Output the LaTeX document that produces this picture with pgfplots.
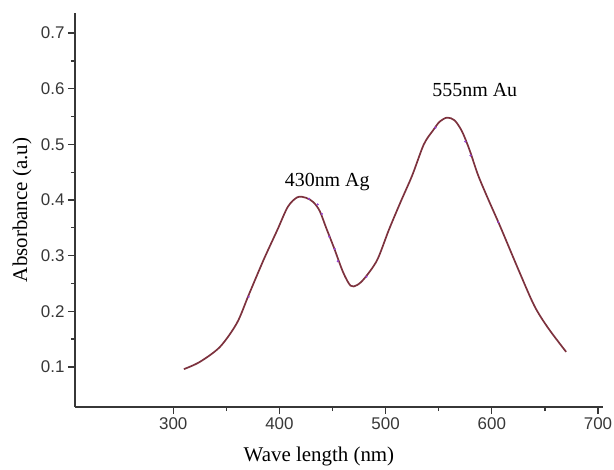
\documentclass[border=0pt]{standalone}
\usepackage{pgfplots}
\pgfplotsset{compat=1.18}
\usepackage{fontspec}
\setmainfont{Liberation Sans}
\newfontfamily\tnr{Liberation Serif}
\definecolor{curve}{RGB}{125,50,62}
\definecolor{dots}{RGB}{150,70,210}
\definecolor{axgray}{RGB}{55,55,55}

% absorbance spectrum
\pgfplotstableread{
lam   abs
310   0.096
325   0.109
344   0.136
360   0.179
371   0.229
385   0.292
398   0.346
408   0.388
417   0.405
425   0.404
432   0.396
438   0.380
444   0.350
451   0.316
460   0.270
467   0.246
473   0.247
480   0.259
492   0.292
503   0.346
514   0.396
525   0.444
536   0.500
545   0.526
551   0.541
558   0.548
565   0.543
572   0.523
579   0.490
587   0.445
596   0.404
608   0.352
625   0.275
640   0.210
653   0.170
670   0.127
}\spectrum

\begin{document}
\begin{tikzpicture}
\useasboundingbox (-75bp,-63bp) rectangle (539bp,407bp);
\begin{axis}[
    at={(0,0)}, anchor=south west,
    scale only axis,
    width=528bp, height=394bp,
    xmin=207.5, xmax=704.7,
    ymin=0.028, ymax=0.736,
    axis lines*=left,
    axis line style={axgray, line width=1.4bp},
    xtick={300,400,500,600,700},
    ytick={0.1,0.2,0.3,0.4,0.5,0.6,0.7},
    minor x tick num=1, minor y tick num=1,
    tick align=outside,
    major tick length=7bp, minor tick length=4bp,
    every tick/.style={axgray, line width=1.3bp},
    tick label style={font=\fontsize{17}{17}\selectfont, text=axgray},
    /pgf/number format/assume math mode=true,
    yticklabel style={/pgf/number format/fixed, /pgf/number format/precision=1, /pgf/number format/fixed zerofill},
    xlabel={Wave length (nm)},
    ylabel={Absorbance (a.u)},
    every axis x label/.style={at={(axis description cs:0.462,-0.126)}, anchor=center,
        font=\tnr\fontsize{21}{21}\selectfont},
    every axis y label/.style={at={(axis description cs:-0.100,0.5)}, rotate=90, anchor=center,
        font=\tnr\fontsize{21}{21}\selectfont},
    clip=false,
]
\addplot[curve, line width=1.7bp, smooth] table[x=lam, y=abs] {\spectrum};
\addplot[only marks, mark=*, mark size=0.9bp, dots] coordinates {
    (371,0.226) (428,0.402) (436,0.392) (440,0.375) (447,0.334) (452,0.312)
    (455,0.290) (482,0.262) (547,0.530) (575,0.505) (580,0.480) (606,0.360)
};
\node[font=\tnr\fontsize{20}{20}\selectfont] at (axis cs:445,0.433) {430nm Ag};
\node[font=\tnr\fontsize{20}{20}\selectfont] at (axis cs:584,0.598) {555nm Au};
\end{axis}
\end{tikzpicture}
\end{document}
